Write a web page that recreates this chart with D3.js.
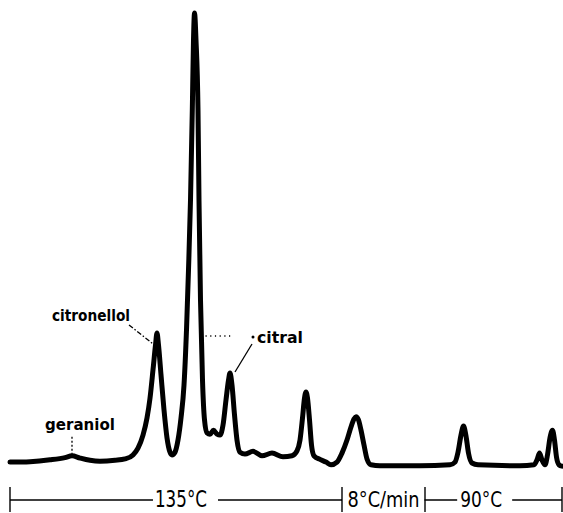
<!DOCTYPE html>
<html lang="en">
<head>
<meta charset="UTF-8">
<title>Gas chromatogram – geraniol, citronellol, citral</title>
<style>
  body { margin: 0; background: #fff; }
  svg { display: block; }
  .trace { fill: none; stroke: #000; stroke-width: 5; stroke-linejoin: round; stroke-linecap: round; }
  .peak-label { font-family: "DejaVu Sans", sans-serif; font-weight: bold; font-size: 15px; fill: #000; }
  .prog-label { font-family: "DejaVu Sans Condensed", "DejaVu Sans", sans-serif; font-size: 22px; fill: #000; }
  .leader { stroke: #000; stroke-width: 1.3; fill: none; }
  .prog-line { stroke: #000; stroke-width: 1.4; }
</style>
</head>
<body>
<div id="chart"></div>
<script src="https://cdnjs.cloudflare.com/ajax/libs/d3/7.8.5/d3.min.js"></script>
<script>
// retention time (arbitrary min) and detector response (% of largest peak)
const timeMin = [
  0, 2, 4, 5.5, 6.2, 7, 8, 9, 10.5, 11.5,
  12.3, 12.8, 13.3, 13.7, 14.0, 14.3, 14.55, 14.7, 14.85, 15.1,
  15.4, 15.7, 16.0, 16.2, 16.5, 16.8, 17.1, 17.4, 17.65, 17.85,
  18.05, 18.23, 18.35, 18.45, 18.6, 18.8, 18.9, 19.05, 19.25, 19.45,
  19.7, 20.0, 20.35, 20.7, 21.0, 21.3, 21.6, 21.85, 22.0, 22.2,
  22.45, 22.7, 23.0, 23.5, 24.3, 25.2, 26.2, 27.3, 28.2, 28.7,
  29.0, 29.25, 29.45, 29.6, 29.75, 29.95, 30.15, 30.4, 31.0, 31.6,
  32.1, 32.7, 33.2, 33.7, 34.1, 34.4, 34.6, 34.85, 35.1, 35.4,
  35.7, 36.1, 37.0, 41.0, 44.0, 44.5, 44.8, 45.1, 45.35, 45.6,
  45.85, 46.2, 46.8, 51.0, 52.4, 52.7, 52.95, 53.2, 53.5, 53.75,
  54.0, 54.25, 54.45, 54.65, 54.9, 55.2
];
const signal = [
  0.2, 0.3, 0.7, 1.2, 1.6, 1.1, 0.6, 0.4, 0.6, 0.9,
  1.8, 3.3, 6.2, 10.0, 14.4, 20.7, 26.2, 28.9, 26.2, 19.6,
  11.8, 5.6, 2.4, 1.8, 2.4, 5.1, 10.0, 17.3, 29.6, 42.9,
  58.4, 78.4, 94.0, 100, 94.0, 78.4, 58.4, 36.2, 18.4, 9.6,
  6.7, 6.4, 7.3, 6.4, 6.2, 8.4, 14.0, 18.4, 20.0, 17.3,
  10.7, 5.1, 2.4, 2.0, 2.6, 1.6, 2.2, 1.4, 1.6, 2.7,
  5.1, 10.0, 14.4, 15.8, 14.4, 9.6, 4.0, 1.6, 0.8, 0.2,
  -0.4, 0.2, 2.2, 5.1, 8.0, 9.8, 10.3, 9.6, 7.3, 4.0,
  0.9, -0.4, -0.6, -0.6, -0.4, 0.2, 2.4, 6.2, 8.2, 6.0,
  2.2, 0, -0.4, -0.6, -0.4, 0.7, 2.2, 0.7, -0.4, 1.8,
  5.6, 7.3, 5.1, 1.3, -0.4, -0.7
];

const peakNames = ["geraniol", "citronellol", "citral"];
const peakTimes = [6.2, 14.7, 22.0];
const mainPeakTime = 18.45;

// temperature programme along the bottom
const progLabels = ["135°C", "8°C/min", "90°C"];
const progBounds = [0, 33.2, 41.5, 55.2];

const width = 563, height = 513;

const svg = d3.select("#chart").append("svg")
  .attr("width", width)
  .attr("height", height);

const x = d3.scaleLinear().domain([0, 55.2]).range([10, 562]);
const y = d3.scaleLinear().domain([0, 100]).range([463, 13]);

const pts = timeMin.map((t, i) => [t, signal[i]]);

const line = d3.line()
  .x(d => x(d[0]))
  .y(d => y(d[1]))
  .curve(d3.curveMonotoneX);

svg.append("path")
  .datum(pts)
  .attr("class", "trace")
  .attr("d", line);

// peak labels
function peakY(t) {
  const i = timeMin.indexOf(t);
  return y(signal[i]);
}

const g = svg.append("g");

// geraniol
{
  const px = x(peakTimes[0]), py = peakY(peakTimes[0]);
  g.append("text").attr("class", "peak-label")
    .attr("x", px - 27).attr("y", py - 26)
    .attr("textLength", 70).attr("lengthAdjust", "spacingAndGlyphs")
    .text(peakNames[0]);
  g.append("line").attr("class", "leader")
    .attr("x1", px).attr("x2", px)
    .attr("y1", py - 19).attr("y2", py - 2)
    .attr("stroke-dasharray", "2,2");
}

// citronellol
{
  const px = x(peakTimes[1]), py = peakY(peakTimes[1]);
  g.append("text").attr("class", "peak-label")
    .attr("x", px - 27).attr("y", py - 11.5)
    .attr("text-anchor", "end")
    .attr("textLength", 78).attr("lengthAdjust", "spacingAndGlyphs")
    .text(peakNames[1]);
  g.append("line").attr("class", "leader")
    .attr("x1", px - 28).attr("y1", py - 8)
    .attr("x2", px - 4).attr("y2", py + 11)
    .attr("stroke-dasharray", "5,2,1.5,2");
}

// citral
{
  const px = x(peakTimes[2]), py = peakY(peakTimes[2]);
  g.append("text").attr("class", "peak-label")
    .attr("x", px + 27).attr("y", py - 30)
    .attr("textLength", 46).attr("lengthAdjust", "spacingAndGlyphs")
    .text(peakNames[2]);
  g.append("circle")
    .attr("cx", px + 23).attr("cy", py - 36).attr("r", 1.5);
  g.append("line").attr("class", "leader")
    .attr("x1", px + 22).attr("y1", py - 29)
    .attr("x2", px + 5).attr("y2", py - 1)
    .attr("stroke-width", 1.6);
  // dotted guide from the main peak
  g.append("line").attr("class", "leader")
    .attr("x1", x(mainPeakTime) + 11).attr("x2", px + 3)
    .attr("y1", py - 37).attr("y2", py - 37)
    .attr("stroke-dasharray", "1.2,3.5");
}

// temperature programme bar
const axisY = 500;
const labelFrac = [0.515, 0.5, 0.41];
const labelWidth = [52, 72, 42];
const gapL = [2, 6, 3], gapR = [11, 5, 10];

const prog = svg.append("g");

progBounds.forEach((b, i) => {
  prog.append("line").attr("class", "prog-line")
    .attr("x1", x(b)).attr("x2", x(b))
    .attr("y1", axisY - 13).attr("y2", axisY + 12);
});

progLabels.forEach((lab, i) => {
  const lo = x(progBounds[i]), hi = x(progBounds[i + 1]);
  const cx = lo + (hi - lo) * labelFrac[i];
  const w = labelWidth[i];
  prog.append("line").attr("class", "prog-line")
    .attr("x1", lo).attr("x2", cx - w / 2 - gapL[i])
    .attr("y1", axisY).attr("y2", axisY);
  prog.append("line").attr("class", "prog-line")
    .attr("x1", cx + w / 2 + gapR[i]).attr("x2", hi)
    .attr("y1", axisY).attr("y2", axisY);
  prog.append("text").attr("class", "prog-label")
    .attr("x", cx).attr("y", axisY + 7)
    .attr("text-anchor", "middle")
    .attr("textLength", w).attr("lengthAdjust", "spacingAndGlyphs")
    .style("font-size", i === 0 ? "23px" : "21px")
    .text(lab);
});
</script>
</body>
</html>
